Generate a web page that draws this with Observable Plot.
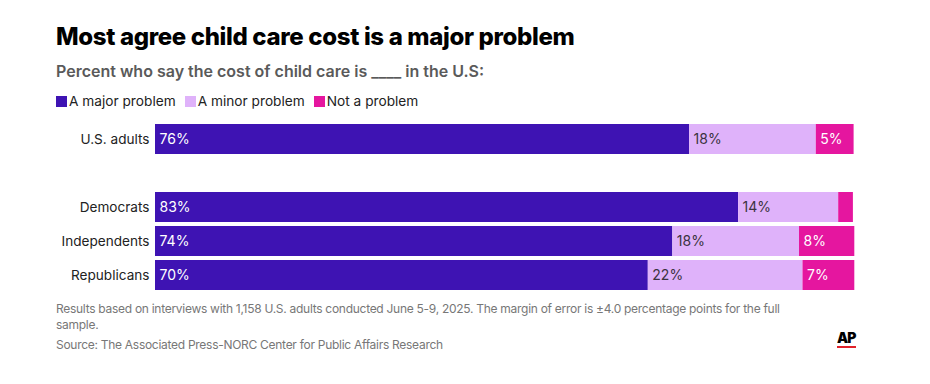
<!DOCTYPE html>
<html><head><meta charset="utf-8">
<script src="https://cdn.jsdelivr.net/npm/d3@7"></script>
<script src="https://cdn.jsdelivr.net/npm/@observablehq/plot@0.6"></script>
<style>
html,body{margin:0;padding:0;background:#fff;}
#root{position:relative;width:930px;height:384px;overflow:hidden;font-family:Inter,"Noto Sans",sans-serif;}
.abs{position:absolute;white-space:nowrap;}
#title{left:56px;top:22px;font-size:24px;line-height:30px;font-weight:800;color:#000;letter-spacing:-0.35px;}
#subtitle{left:56px;top:61px;font-size:16px;line-height:20px;font-weight:600;color:#5a5a5a;}
#legend{left:56px;top:92px;font-size:13.7px;line-height:18px;color:#222;display:flex;}
#legend .item{display:flex;align-items:center;margin-right:9px;}
#legend .sw{width:11px;height:11px;margin-right:2px;}
#chart{left:0;top:118px;}
#note{left:56px;top:301px;width:760px;white-space:normal;font-size:12px;line-height:16px;color:#777;letter-spacing:-0.28px;}
#source{left:56px;top:337px;font-size:12px;line-height:16px;color:#777;letter-spacing:-0.28px;}
#ap{left:837px;top:331px;font-size:14px;font-weight:900;color:#000;letter-spacing:-1px;line-height:14px;}
#apbar{left:837px;top:346px;width:19px;height:2px;background:#e0222a;}
</style>
</head><body><div id="root"></div>
<script>
const groups = ["U.S. adults", "Democrats", "Independents", "Republicans"];
const answers = ["A major problem", "A minor problem", "Not a problem"];
const colors = ["#3e13b3", "#dfb2fa", "#e5169f"];
const major = [76.3, 83.3, 73.9, 70.4];
const minor = [18.1, 14.3, 18.1, 22.1];
const notProblem = [5.4, 2.1, 7.9, 7.4];
const titleText = "Most agree child care cost is a major problem";
const subtitleText = "Percent who say the cost of child care is ____ in the U.S:";
const noteText = "Results based on interviews with 1,158 U.S. adults conducted June 5-9, 2025. The margin of error is \u00b14.0 percentage points for the full sample.";
const sourceText = "Source: The Associated Press-NORC Center for Public Affairs Research";

const spacer = " ";
const yDomain = [groups[0], spacer, ...groups.slice(1)];
const series = [major, minor, notProblem];
const data = [];
groups.forEach((g, i) => answers.forEach((a, j) => data.push({group: g, answer: a, value: series[j][i]})));

const root = document.getElementById("root");
function add(id, text) { const d = document.createElement("div"); d.id = id; d.className = "abs"; if (text) d.textContent = text; root.appendChild(d); return d; }
add("title", titleText);
add("subtitle", subtitleText);
const leg = add("legend");
answers.forEach((a, j) => {
  const it = document.createElement("div"); it.className = "item";
  const sw = document.createElement("div"); sw.className = "sw"; sw.style.background = colors[j];
  const t = document.createElement("span"); t.textContent = a;
  it.appendChild(sw); it.appendChild(t); leg.appendChild(it);
});

const chart = Plot.plot({
  width: 930, height: 178,
  marginLeft: 155, marginRight: 75, marginTop: 4, marginBottom: 4,
  style: {fontFamily: "Inter, 'Noto Sans', sans-serif", fontSize: "14px", background: "transparent"},
  x: {domain: [0, 100], axis: null},
  y: {domain: yDomain, paddingInner: 4/34, paddingOuter: 2/34, label: null},
  color: {domain: answers, range: colors},
  marks: [
    Plot.barX(data, Plot.stackX({x: "value", y: "group", fill: "answer", order: answers})),
    Plot.textX(data.filter(d => d.value >= 3), Plot.stackX1({x: "value", y: "group", z: "answer", order: answers,
      text: d => Math.round(d.value) + "%", textAnchor: "start", dx: 4,
      fill: d => d.answer === answers[1] ? "#3b3340" : "#ffffff"})),
    Plot.axisY({tickSize: 0, tickPadding: 6, label: null, fill: "#222", fontSize: 13.6, tickFormat: d => d.trim()})
  ]
});
const wrap = add("chart"); wrap.appendChild(chart);
add("note", noteText);
add("source", sourceText);
add("ap", "AP");
add("apbar");
</script>
</body></html>
